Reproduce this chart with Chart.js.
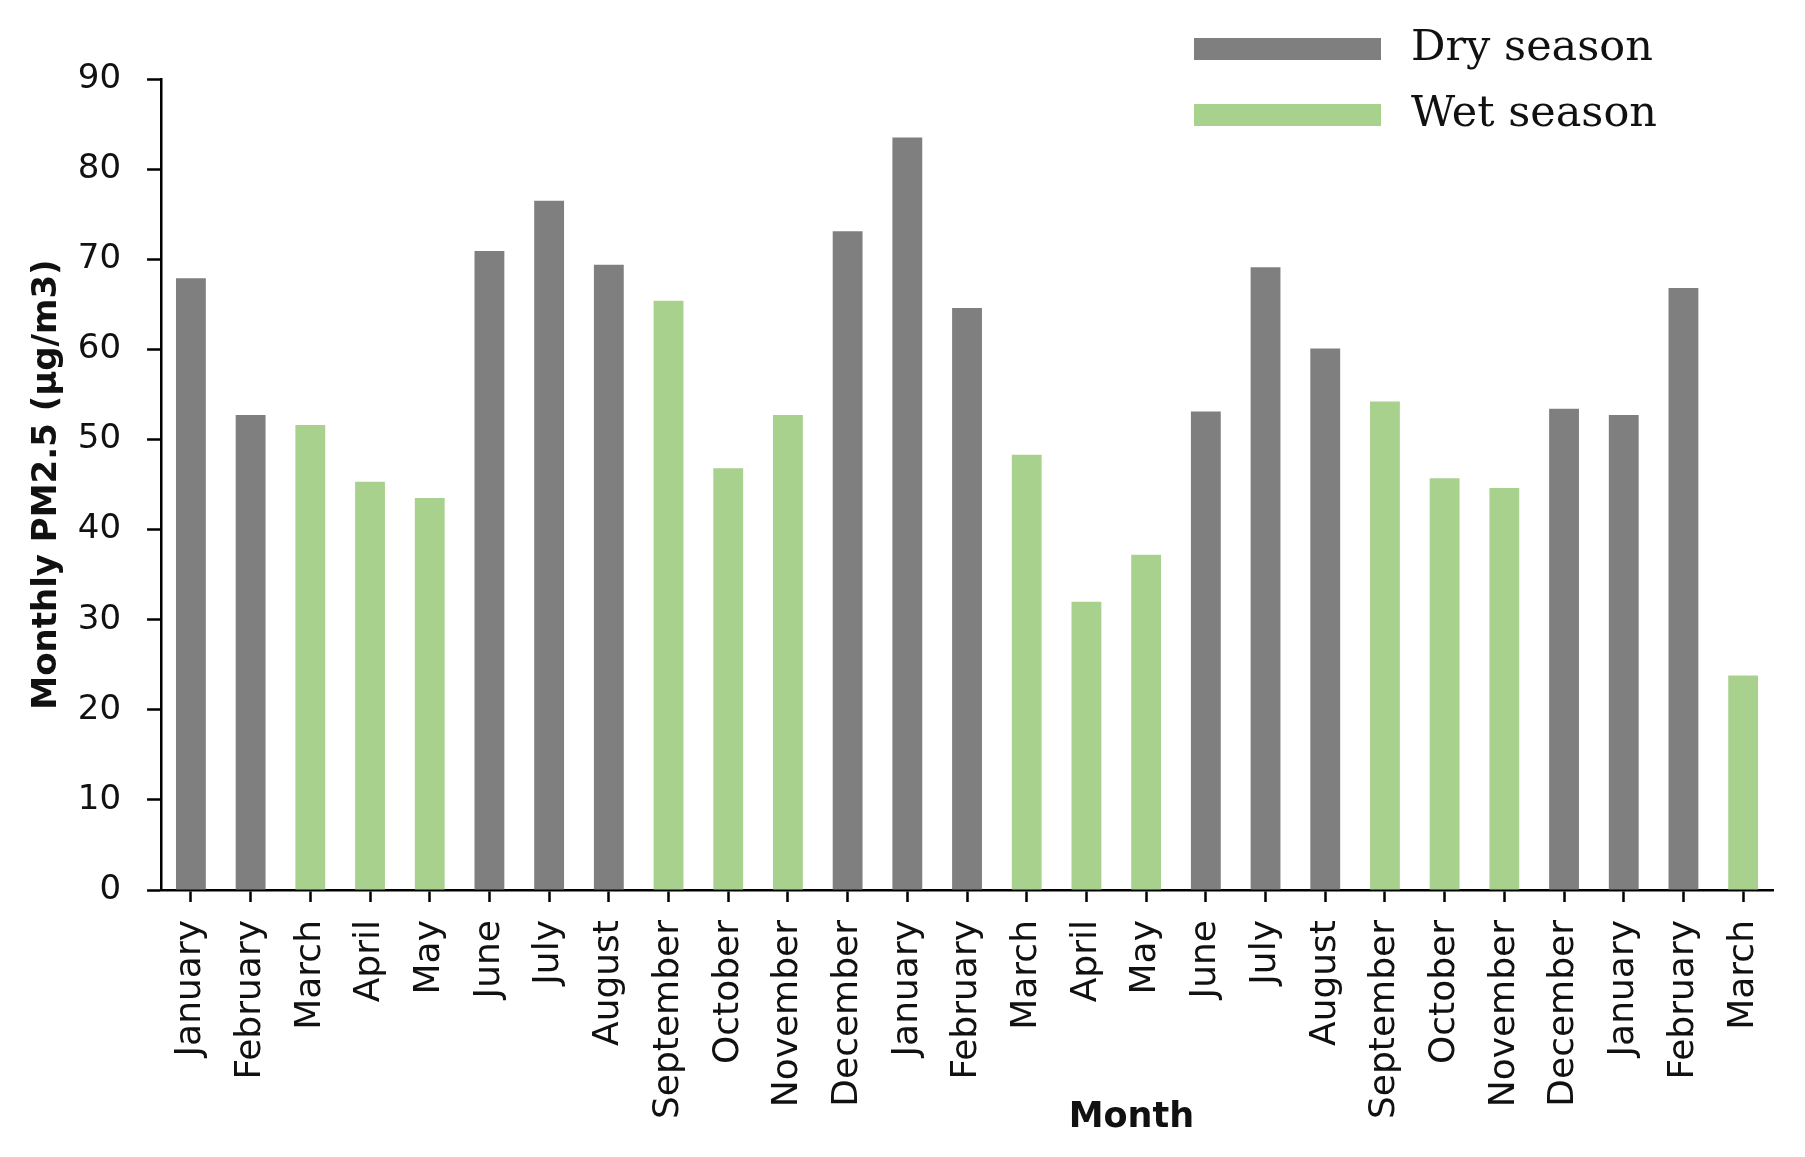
<!DOCTYPE html>
<html>
<head>
<meta charset="utf-8">
<script src="https://cdn.jsdelivr.net/npm/chart.js@4.4.0/dist/chart.umd.min.js"></script>
<style>
  html, body { margin: 0; padding: 0; background: #fff; }
  canvas { display: block; }
</style>
</head>
<body>
<canvas id="pmChart" width="1805" height="1157"></canvas>
<script>
// 27 consecutive months
const months = [
    'January', 'February', 'March', 'April', 'May', 'June', 'July', 'August', 'September',
    'October', 'November', 'December', 'January', 'February', 'March', 'April', 'May', 'June',
    'July', 'August', 'September', 'October', 'November', 'December', 'January', 'February', 'March'
];
const pm25 = [
    67.9, 52.7, 51.6, 45.3, 43.5, 70.9, 76.5, 69.4, 65.4,
    46.8, 52.7, 73.1, 83.5, 64.6, 48.3, 32.0, 37.2, 53.1,
    69.1, 60.1, 54.2, 45.7, 44.6, 53.4, 52.7, 66.8, 23.8
];
const season = [
    'dry', 'dry', 'wet', 'wet', 'wet', 'dry', 'dry', 'dry', 'wet',
    'wet', 'wet', 'dry', 'dry', 'dry', 'wet', 'wet', 'wet', 'dry',
    'dry', 'dry', 'wet', 'wet', 'wet', 'dry', 'dry', 'dry', 'wet'
];
const seasonNames = { dry: 'Dry season', wet: 'Wet season' };
const seasonColors = { dry: '#7f7f7f', wet: '#a9d18e' };
const yMin = 0, yMax = 90, yStep = 10;

const datasets = ['dry', 'wet'].map(s => ({
    label: seasonNames[s],
    data: pm25.map((v, i) => season[i] === s ? v : null),
    backgroundColor: seasonColors[s],
    borderWidth: 0,
    barPercentage: 0.5,
    categoryPercentage: 1
}));

// legend sits in the top right corner, items stacked
const legendMover = {
    id: 'legendMover',
    afterLayout(chart) {
        const lg = chart.legend;
        const w = lg.width, h = lg.height;
        lg.left = 1171;
        lg.top = 4.5;
        lg.right = lg.left + w;
        lg.bottom = lg.top + h;
    }
};

Chart.defaults.font.family = "'DejaVu Sans', sans-serif";
Chart.defaults.color = '#111';

new Chart(document.getElementById('pmChart').getContext('2d'), {
    type: 'bar',
    data: {
        labels: months,
        datasets: datasets
    },
    options: {
        responsive: false,
        animation: false,
        layout: {
            padding: { top: 79, right: 32, bottom: 0, left: 0 }
        },
        plugins: {
            legend: {
                position: 'chartArea',
                align: 'start',
                labels: {
                    boxWidth: 187,
                    boxHeight: 22,
                    padding: 23,
                    color: '#111',
                    font: { family: "'DejaVu Serif', serif", size: 43 },
                    // a thin space widens the gap between swatch and text
                    generateLabels(chart) {
                        return Chart.defaults.plugins.legend.labels.generateLabels(chart)
                            .map(item => Object.assign(item, { text: '\u2009' + item.text }));
                    }
                }
            },
            tooltip: { enabled: false }
        },
        scales: {
            x: {
                stacked: true,
                grid: {
                    drawOnChartArea: false,
                    offset: false,
                    tickLength: 12,
                    tickColor: '#000',
                    tickWidth: 2.5
                },
                border: { color: '#000', width: 2.5 },
                ticks: {
                    autoSkip: false,
                    minRotation: 90,
                    maxRotation: 90,
                    padding: 18,
                    font: { size: 36 }
                },
                title: {
                    display: true,
                    text: '\u2003'.repeat(8) + '    Month',
                    font: { size: 35, weight: 'bold' },
                    color: '#111',
                    padding: { top: -40, bottom: 18 }
                }
            },
            y: {
                stacked: true,
                min: yMin,
                max: yMax,
                grid: {
                    drawOnChartArea: false,
                    tickLength: 14,
                    tickColor: '#000',
                    tickWidth: 2.5
                },
                border: { color: '#000', width: 2.5 },
                ticks: {
                    stepSize: yStep,
                    padding: 26,
                    font: { size: 34 }
                },
                title: {
                    display: true,
                    text: 'Monthly PM2.5 (µg/m3)',
                    font: { size: 34, weight: 'bold' },
                    color: '#111',
                    padding: { top: 26.6, bottom: -15.6 }
                }
            }
        }
    },
    plugins: [legendMover]
});
</script>
</body>
</html>
